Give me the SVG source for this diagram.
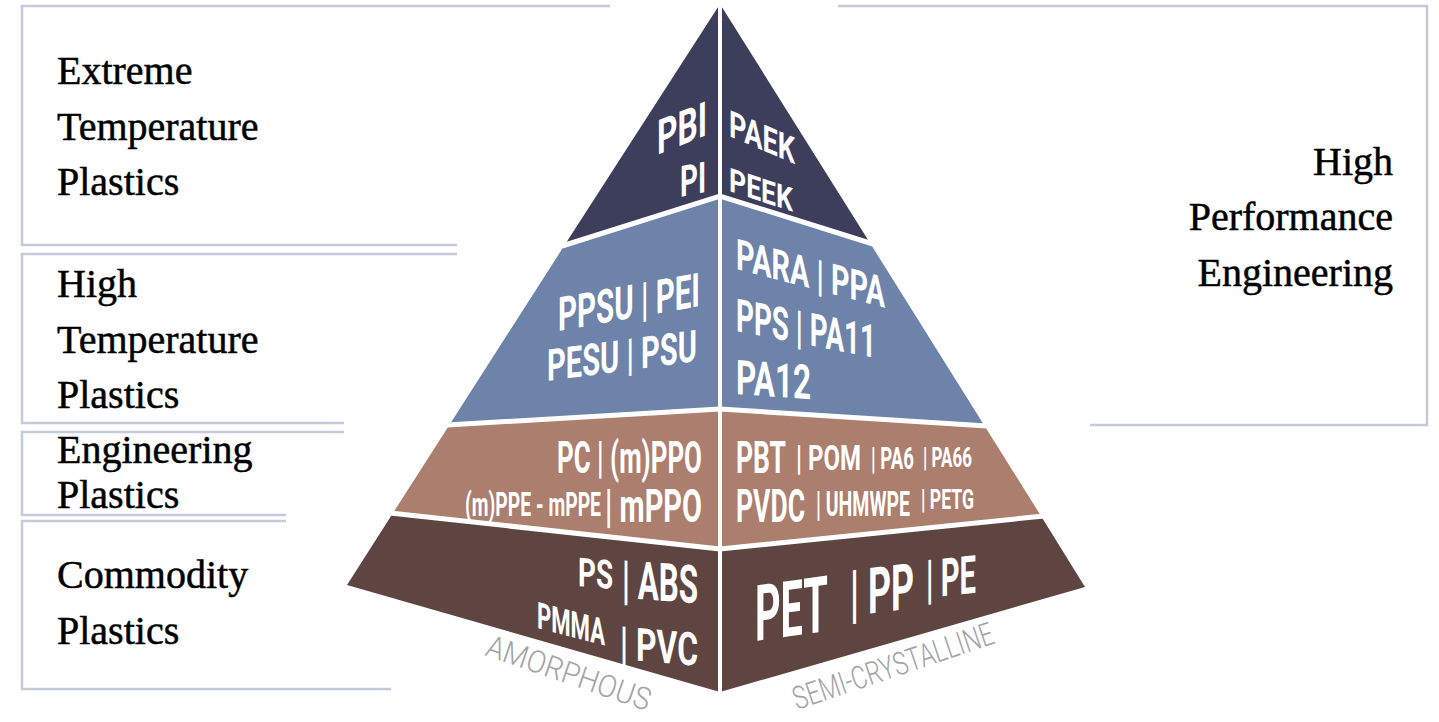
<svg xmlns="http://www.w3.org/2000/svg" width="1439" height="722" viewBox="0 0 1439 722">
<style>
.frame{fill:none;stroke:#c2cadc;stroke-width:2.5}
.lbl{font-family:"Liberation Serif","Times New Roman",serif;font-size:40px;fill:#000;stroke:#000;stroke-width:0.5}
.r{text-anchor:end}
.pt{font-family:Roboto,"Liberation Sans",sans-serif;font-weight:700;fill:#fff}
.ax{font-family:Roboto,"Liberation Sans",sans-serif;font-weight:300;fill:#a2a2a7}
.sep{fill:none;stroke:#fff;stroke-width:5}
</style>
<rect width="1439" height="722" fill="#fff"/>

<g id="box-extreme">
<path class="frame" d="M610,6 H22 V245 H457"/>
<text class="lbl" x="57" y="84">Extreme</text>
<text class="lbl" x="57" y="140">Temperature</text>
<text class="lbl" x="57" y="195">Plastics</text>
</g>
<g id="box-high-temp">
<path class="frame" d="M457,254 H22 V423 H344"/>
<text class="lbl" x="57" y="297">High</text>
<text class="lbl" x="57" y="353">Temperature</text>
<text class="lbl" x="57" y="408">Plastics</text>
</g>
<g id="box-engineering">
<path class="frame" d="M344,432 H22 V515 H286"/>
<text class="lbl" x="57" y="463">Engineering</text>
<text class="lbl" x="57" y="508">Plastics</text>
</g>
<g id="box-commodity">
<path class="frame" d="M286,521 H22 V689 H391"/>
<text class="lbl" x="57" y="588">Commodity</text>
<text class="lbl" x="57" y="644">Plastics</text>
</g>
<g id="box-high-performance">
<path class="frame" d="M838,6 H1427 V425 H1090"/>
<text class="lbl r" x="1393" y="175">High</text>
<text class="lbl r" x="1393" y="230">Performance</text>
<text class="lbl r" x="1393" y="286">Engineering</text>
</g>

<g id="layer-extreme">
<polygon fill="#3c3e5c" points="720,4 564.7,245 720,196 870,243"/>
<text class="pt" font-size="48" textLength="50" lengthAdjust="spacingAndGlyphs" transform="translate(657,155) skewY(-22)">PBI</text>
<text class="pt" font-size="43" textLength="26" lengthAdjust="spacingAndGlyphs" transform="translate(680,197) skewY(-11)">PI</text>
<text class="pt" font-size="37" textLength="66" lengthAdjust="spacingAndGlyphs" transform="translate(729,136) skewY(23)">PAEK</text>
<text class="pt" font-size="33" textLength="64" lengthAdjust="spacingAndGlyphs" transform="translate(729,191) skewY(18)">PEEK</text>
</g>

<g id="layer-high-temp">
<polygon fill="#6d83a9" points="564.7,245 720,196 870,243 984,425 720,408 450,424"/>
<text class="pt" font-size="47" textLength="142" lengthAdjust="spacingAndGlyphs" transform="translate(558,331) skewY(-10)">PPSU | PEI</text>
<text class="pt" font-size="44" textLength="150" lengthAdjust="spacingAndGlyphs" transform="translate(547,381) skewY(-7.6)">PESU | PSU</text>
<text class="pt" font-size="43" textLength="149" lengthAdjust="spacingAndGlyphs" transform="translate(736,269) skewY(14.6)">PARA | PPA</text>
<text class="pt" font-size="46" textLength="140" lengthAdjust="spacingAndGlyphs" transform="translate(736,331) skewY(11)">PPS | PA11</text>
<text class="pt" font-size="48" textLength="75" lengthAdjust="spacingAndGlyphs" transform="translate(736,394) skewY(4)">PA12</text>
</g>

<g id="layer-engineering">
<polygon fill="#ab7e6e" points="450,424 720,408 984,425 1041,516 720,549 393,513"/>
<text class="pt" font-size="44" textLength="145" lengthAdjust="spacingAndGlyphs" x="557" y="473">PC | (m)PPO</text>
<text class="pt" font-size="34" textLength="136" lengthAdjust="spacingAndGlyphs" x="465" y="516">(m)PPE - mPPE</text>
<text class="pt" font-size="46" textLength="97" lengthAdjust="spacingAndGlyphs" x="605" y="522">| mPPO</text>
<text class="pt" font-size="44" textLength="50" lengthAdjust="spacingAndGlyphs" x="736" y="473">PBT</text>
<text class="pt" font-size="35" textLength="65" lengthAdjust="spacingAndGlyphs" x="796" y="470">| POM</text>
<text class="pt" font-size="31" textLength="43" lengthAdjust="spacingAndGlyphs" x="871" y="469">| PA6</text>
<text class="pt" font-size="27" textLength="49" lengthAdjust="spacingAndGlyphs" x="923" y="467">| PA66</text>
<text class="pt" font-size="47" textLength="69" lengthAdjust="spacingAndGlyphs" x="736" y="522">PVDC</text>
<text class="pt" font-size="35" textLength="94" lengthAdjust="spacingAndGlyphs" x="816" y="516">| UHMWPE</text>
<text class="pt" font-size="27" textLength="53" lengthAdjust="spacingAndGlyphs" x="921" y="509">| PETG</text>
</g>

<g id="layer-commodity">
<polygon fill="#5e4542" points="393,513 720,549 1041,516 1085,587 720,692 347,585"/>
<text class="pt" font-size="40" textLength="35" lengthAdjust="spacingAndGlyphs" transform="translate(578,586) skewY(5)">PS</text>
<text class="pt" font-size="53" textLength="76" lengthAdjust="spacingAndGlyphs" transform="translate(622,598) skewY(4)">| ABS</text>
<text class="pt" font-size="37" textLength="68" lengthAdjust="spacingAndGlyphs" transform="translate(537,628) skewY(14.6)">PMMA</text>
<text class="pt" font-size="46" textLength="78" lengthAdjust="spacingAndGlyphs" transform="translate(620,659) skewY(5)">| PVC</text>
<text class="pt" font-size="78" textLength="73" lengthAdjust="spacingAndGlyphs" transform="translate(755,641) skewY(-7.8)">PET</text>
<text class="pt" font-size="64" textLength="64" lengthAdjust="spacingAndGlyphs" transform="translate(850,616) skewY(-7)">| PP</text>
<text class="pt" font-size="53" textLength="50" lengthAdjust="spacingAndGlyphs" transform="translate(926,598) skewY(-6)">| PE</text>
</g>

<g id="separators">
<polyline class="sep" points="562,246 720,196 873,244"/>
<polyline class="sep" points="447,425 720,409 987,426"/>
<polyline class="sep" points="390,513 720,549 1044,516"/>
<line x1="720" y1="0" x2="720" y2="696" stroke="#fff" stroke-width="4"/>
</g>

<g id="axis-labels">
<text class="ax" font-size="31" textLength="172" lengthAdjust="spacingAndGlyphs" transform="translate(484,655) rotate(19)">AMORPHOUS</text>
<text class="ax" font-size="32" textLength="210" lengthAdjust="spacingAndGlyphs" transform="translate(797,710) rotate(-18.6)">SEMI-CRYSTALLINE</text>
</g>
<g id="connectors"></g>
</svg>
